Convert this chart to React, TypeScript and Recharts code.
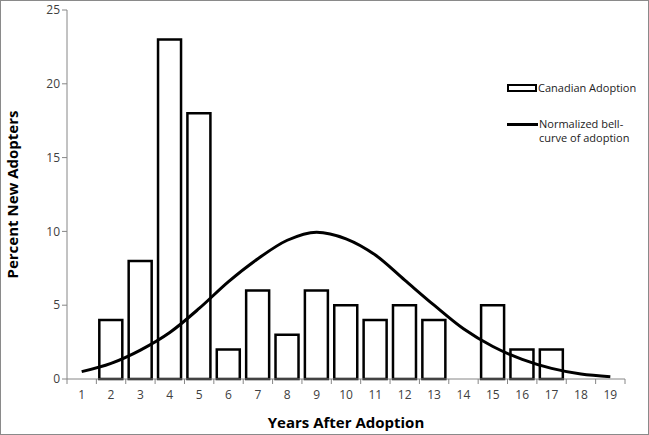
import React from "react";
import { ComposedChart, Bar, Line, XAxis, YAxis } from "recharts";

const years = ["1","2","3","4","5","6","7","8","9","10","11","12","13","14","15","16","17","18","19"];
const canadian: (number | null)[] = [null,4,8,23,18,2,6,3,6,5,4,5,4,null,5,2,2,null,null];
const bellCurve = [0.5,1.06,1.96,3.15,4.78,6.6,8.15,9.4,9.95,9.5,8.4,6.7,5.0,3.4,2.2,1.33,0.72,0.34,0.16];
const yTicks = [0,5,10,15,20,25];
const legendBar = "Canadian Adoption";
const legendLine1 = "Normalized bell-";
const legendLine2 = "curve of adoption";

const data = years.map((y, i) => ({ year: y, canadian: canadian[i], bell: bellCurve[i] }));

const FONT = "'Open Sans', 'Liberation Sans', sans-serif";

const XTick = (props: any) => {
  const { x, y, payload, index, visibleTicksCount } = props;
  const off = payload.offset || 0;
  const isLast = index === visibleTicksCount - 1;
  return (
    <g>
      <line x1={x - off} x2={x - off} y1={y - 8} y2={y - 3} stroke="#868686" strokeWidth={1} />
      {isLast && <line x1={x + off} x2={x + off} y1={y - 8} y2={y - 3} stroke="#868686" strokeWidth={1} />}
      <text x={x} y={y + 12} textAnchor="middle" fontSize={12} fill="#404040" fontFamily={FONT}>
        {payload.value}
      </text>
    </g>
  );
};

export default function App() {
  return (
    <div style={{ position: "absolute", left: 0, top: 0, width: 649, height: 435, boxSizing: "border-box", border: "1px solid #8a8a8a", background: "#fff" }}>
      <ComposedChart width={647} height={433} data={data} margin={{ top: 9, right: 23, bottom: 0, left: 26 }} barCategoryGap="10%">
        <XAxis
          dataKey="year"
          stroke="#868686"
          tickLine={false}
          tick={<XTick />}
          height={55}
          interval={0}
          label={{ value: "Years After Adoption", position: "insideBottom", offset: 6, style: { fontFamily: FONT, fontSize: 15, fontWeight: 700, fill: "#000" } }}
        />
        <YAxis
          domain={[0, 25]}
          ticks={yTicks}
          stroke="#868686"
          width={40}
          tickSize={5}
          tick={{ fontSize: 12, fill: "#404040", fontFamily: FONT }}
          label={{ value: "Percent New Adopters", angle: -90, position: "insideLeft", offset: -14, style: { textAnchor: "middle", fontFamily: FONT, fontSize: 15, fontWeight: 700, fill: "#000" } }}
        />
        <Bar dataKey="canadian" name={legendBar} fill="#fff" stroke="#000" strokeWidth={2.5} isAnimationActive={false} />
        <Line dataKey="bell" name={legendLine1 + legendLine2} type="monotone" stroke="#000" strokeWidth={3} dot={false} isAnimationActive={false} />
      </ComposedChart>
      <div style={{ position: "absolute", left: 506, top: 80, fontFamily: FONT, fontSize: 11, color: "#222", lineHeight: "14px" }}>
        <div style={{ display: "flex", alignItems: "center", marginBottom: 22 }}>
          <div style={{ width: 26, height: 4, border: "2.5px solid #000", background: "#fff", marginRight: 1 }} />
          <span>{legendBar}</span>
        </div>
        <div style={{ display: "flex", alignItems: "flex-start" }}>
          <div style={{ width: 31, height: 3, background: "#000", marginTop: 6, marginRight: 1 }} />
          <span>{legendLine1}<br />{legendLine2}</span>
        </div>
      </div>
    </div>
  );
}
